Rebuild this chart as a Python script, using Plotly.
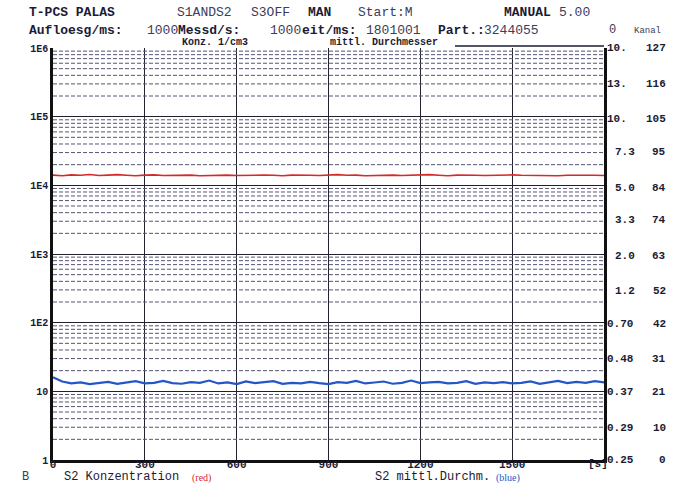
import plotly.graph_objects as go

# ---------------- data ----------------
time_s = list(range(0, 1801, 30))  # 61 samples
konz_red = [14100, 13800, 14200, 14000, 14400, 13900, 14100, 14300, 14000, 13800,
            14100, 14200, 13900, 14000, 14300, 14100, 13800, 14000, 14200, 14100,
            13900, 14000, 14300, 14100, 14000, 13800, 14100, 14200, 14000, 13900,
            14100, 14300, 14000, 14100, 13800, 14000, 14200, 14100, 13900, 14000,
            14100, 14300, 14000, 13800, 14100, 14200, 14000, 13900, 14100, 14000,
            14200, 14000, 13900, 14100, 14000, 13800, 14000, 14100, 13900, 14000, 13900]
durchm_kanal_blue = [25.5, 24.2, 23.6, 23.9, 23.4, 23.8, 24.1, 23.5, 23.9, 24.3,
                     23.6, 23.8, 24.4, 23.7, 23.5, 24.0, 23.8, 24.5, 23.6, 23.9,
                     23.4, 24.2, 23.7, 23.9, 24.3, 23.5, 23.8, 23.6, 24.1, 23.7,
                     23.4, 24.0, 23.8, 24.4, 23.6, 23.9, 24.2, 23.5, 23.8, 24.5,
                     23.7, 23.9, 24.1, 23.6, 23.8, 24.3, 23.5, 23.9, 23.7, 24.0,
                     23.6, 23.8, 24.2, 23.5, 23.9, 24.4, 23.7, 24.1, 23.8, 24.3, 23.9]

x_ticks = [0, 300, 600, 900, 1200, 1500]
x_ticklabels = ["0", "300", "600", "900", "1200", "1500"]
y_ticks = [1, 10, 100, 1000, 10000, 100000, 1000000]
y_ticklabels = ["1", "10", "1E2", "1E3", "1E4", "1E5", "1E6"]
kanal_ticks = [0, 10, 21, 31, 42, 52, 63, 74, 84, 95, 105, 116, 127]
durchm_labels = ["0.25", "0.29", "0.37", "0.48", "0.70", "1.2", "2.0", "3.3",
                 "5.0", "7.3", "10.", "13.", "10."]

# ---------------- layout geometry ----------------
W, H = 674, 484
L, R, T, B = 53, 604, 48, 460
def px(x):
    return (x - L) / (R - L)
def py(y):
    return (B - y) / (B - T)

MONO = "Liberation Mono, DejaVu Sans Mono, monospace"
INK = "#1b1b35"
SOFT = "#3c3c5c"

fig = go.Figure()

# minor log grid lines (2..9 per decade), drawn as a trace in data coords
gx, gy = [], []
for k in range(6):
    for m in range(2, 10):
        v = m * 10 ** k
        gx += [0, 1800, None]
        gy += [v, v, None]
fig.add_trace(go.Scatter(x=gx, y=gy, mode="lines", hoverinfo="skip",
                         line=dict(color="#555572", width=1, dash="4px,2px"),
                         showlegend=False))

fig.add_trace(go.Scatter(x=time_s, y=konz_red, mode="lines",
                         line=dict(color="#d42a2a", width=1.6),
                         name="S2 Konzentration", showlegend=False))
fig.add_trace(go.Scatter(x=time_s, y=durchm_kanal_blue, mode="lines", yaxis="y2",
                         line=dict(color="#2456c8", width=2.2),
                         name="S2 mittl.Durchm.", showlegend=False))

fig.update_layout(
    width=W, height=H,
    margin=dict(l=L, r=W - R, t=T, b=H - B),
    paper_bgcolor="white", plot_bgcolor="white",
    xaxis=dict(range=[0, 1800], tickvals=x_ticks, ticktext=x_ticklabels,
               showgrid=True, gridcolor="#222230", gridwidth=1.3,
               showline=True, linecolor="#111", linewidth=2.5,
               ticks="", zeroline=False, ticklabelstandoff=-8, automargin=False,
               tickfont=dict(family=MONO, size=11, color=INK, weight="bold")),
    yaxis=dict(type="log", range=[0, 6], tickvals=y_ticks, ticktext=y_ticklabels,
               showgrid=True, gridcolor="#22222e", gridwidth=1.3,
               showline=True, linecolor="#111", linewidth=2.5,
               ticks="", zeroline=False, automargin=False,
               tickfont=dict(family=MONO, size=10, color=INK, weight="bold")),
    yaxis2=dict(range=[0, 127], overlaying="y", side="right",
                showgrid=False, showticklabels=False, ticks="", automargin=False,
                showline=True, linecolor="#111", linewidth=2.5, zeroline=False),
)

# underline after "mittl. Durchmesser" on the top frame
fig.add_shape(type="line", xref="paper", yref="paper", x0=px(455), x1=px(604),
              y0=py(46), y1=py(46), line=dict(color="#1b1b35", width=1.5))

ann = []
def text(x, y, s, size=13, color=INK, bold=False, anchor="left", family=MONO):
    ann.append(dict(x=px(x), y=py(y), xref="paper", yref="paper", text=("<b>%s</b>" % s) if bold else s,
                    showarrow=False, xanchor=anchor, yanchor="middle",
                    font=dict(family=family, size=size, color=color)))

# header line 1
text(27, 13, "T-PCS PALAS", bold=True)
text(175, 13, "S1ANDS2", color=SOFT)
text(249, 13, "S3OFF", color=SOFT)
text(306, 13, "MAN", bold=True)
text(356, 13, "Start:M", color=SOFT)
text(502, 13, "MANUAL", bold=True)
text(557, 13, "5.00", color=SOFT)
# header line 2
text(27, 30, "Aufloesg/ms:", bold=True)
text(145, 30, "1000", color=SOFT)
text(176, 30, "Messd/s:", bold=True)
text(268, 30, "1000", color=SOFT)
text(300, 30, "eit/ms:", bold=True)
text(364, 30, "1801001", color=SOFT)
text(436, 30, "Part.:", bold=True)
text(482, 30, "3244055", color=SOFT)
text(607, 30, "0", color=SOFT, size=12)
text(632, 31, "Kanal", color=SOFT, size=9)
# axis titles on the top frame
text(180, 43, "Konz. 1/cm3", bold=True, size=10)
text(328, 43, "mittl. Durchmesser", bold=True, size=10)
# bottom legend line
text(20, 477, "B", color=SOFT, size=12)
text(62, 477, "S2 Konzentration", color=INK, size=12)
text(190, 478, "(red)", color="#d42a2a", size=10, family="Liberation Serif, serif")
text(373, 477, "S2 mittl.Durchm.", color=INK, size=12)
text(494, 478, "(blue)", color="#2456c8", size=10, family="Liberation Serif, serif")
text(586, 464, "[s]", bold=True, size=11)

# right-hand scale: diameter + channel
for k, d in zip(kanal_ticks, durchm_labels):
    ann.append(dict(x=1.0, y=k, xref="paper", yref="y2", text="<b>%s</b>" % d,
                    showarrow=False, xanchor="left", yanchor="middle",
                    xshift=(9 if len(d) == 3 and d[-1] != "." else 1),
                    font=dict(family=MONO, size=11, color=INK)))
    ann.append(dict(x=px(668), y=k, xref="paper", yref="y2", text="<b>%d</b>" % k,
                    showarrow=False, xanchor="right", yanchor="middle",
                    font=dict(family=MONO, size=11, color=INK)))

fig.update_layout(annotations=ann)
fig.write_html("out.html", config={"displayModeBar": False},
               post_script="document.body.style.margin='0';document.body.style.padding='0';")
